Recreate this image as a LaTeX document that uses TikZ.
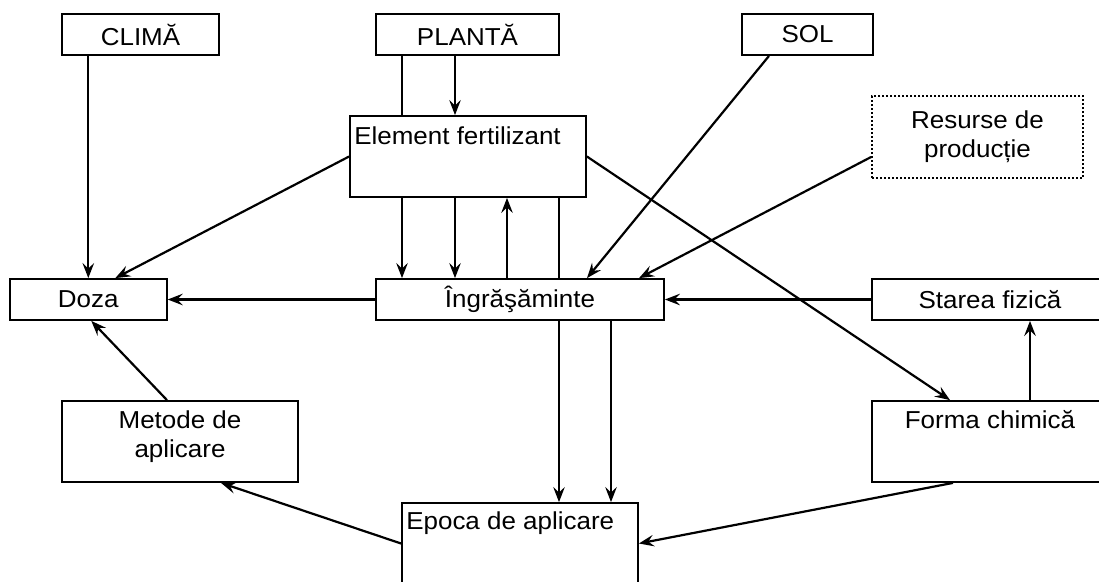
\documentclass[tikz,border=0pt]{standalone}
\usepackage{fontspec}
\setmainfont{Liberation Sans}[FakeStretch=1.06]
\usetikzlibrary{arrows.meta,calc}

\begin{document}
\begin{tikzpicture}
  [x=1pt,y=-1pt,
   every node/.style={inner sep=0pt,font=\fontsize{24.5}{29}\selectfont},
   box/.style={draw,line width=1.8pt,align=center},
   dotbox/.style={box,dash pattern=on 2pt off 2pt},
   arr/.style={line width=2.2pt,-{Stealth[length=15pt,width=11.5pt,inset=5.5pt]}},
   plain/.style={line width=1.8pt}]
  \useasboundingbox (0,0) rectangle (1099,581);
  \clip (0,0) rectangle (1099,581);

  \node[box,minimum width=157pt,minimum height=41pt] (clima) at (140.5,34.5) {CLIMĂ};
  \node[box,minimum width=183pt,minimum height=41pt] (planta) at (467.5,34.5) {PLANTĂ};
  \node[box,minimum width=131pt,minimum height=41pt] (sol) at (807.5,34.5) {SOL};
  \node[box,minimum width=236pt,minimum height=81pt] (element) at (468,156.5) {};
  \node[dotbox,minimum width=211pt,minimum height=82pt] (resurse) at (977.5,137) {Resurse de\\producție};
  \node[box,minimum width=157pt,minimum height=41pt] (doza) at (88.3,299.5) {Doza};
  \node[box,minimum width=288pt,minimum height=41pt] (ingr) at (520,299.5) {Îngrăşăminte};
  \node[box,minimum width=236pt,minimum height=41pt] (starea) at (990,299.5) {Starea fizică};
  \node[box,minimum width=236pt,minimum height=81pt] (metode) at (180,441.5) {};
  \node[box,minimum width=236pt,minimum height=81pt] (forma) at (990,441.5) {};
  \node[box,minimum width=236pt,minimum height=81pt] (epoca) at (520,543.5) {};

  % texts inside the tall boxes
  \node[anchor=base west] (eltxt) at ([shift={(5,29)}]element.north west) {Element fertilizant};
  \node[anchor=base,align=center] (metxt) at ([shift={(0,57)}]metode.north) {Metode de\\aplicare};
  \node[anchor=base] (fotxt) at ([shift={(0,28)}]forma.north) {Forma chimică};
  \node[anchor=base west] (eptxt) at ([shift={(5,27)}]epoca.north west) {Epoca de aplicare};

  \coordinate (v1) at (402,0);
  \coordinate (v2) at (455,0);
  \coordinate (v3) at (507,0);
  \coordinate (v4) at (559,0);
  \coordinate (v5) at (611,0);

  \draw[plain] (planta.south -| v1) -- (element.north -| v1);
  \draw[arr] (planta.south -| v2) -- (element.north -| v2);
  \foreach \v in {v1,v2}
    \draw[arr] (element.south -| \v) -- (ingr.north -| \v);
  \draw[arr] (ingr.north -| v3) -- (element.south -| v3);
  \draw[plain] (element.south -| v4) -- (ingr.north -| v4);
  \foreach \v in {v4,v5}
    \draw[arr] (ingr.south -| \v) -- (epoca.north -| \v);

  \draw[arr] (clima.south -| doza.north) -- (doza.north);
  \draw[arr] (element.west) -- ([xshift=27pt]doza.north);
  \draw[arr] (ingr.west) -- (doza.east);
  \draw[arr] ([xshift=-13pt]metode.north) -- ([xshift=3pt]doza.south);
  \draw[arr] (epoca.west) -- ([xshift=41pt]metode.south);
  \draw[arr] ([xshift=-37pt]forma.south) -- (epoca.east);
  \draw[arr] (starea.west) -- (ingr.east);
  \draw[arr] ([xshift=40pt]forma.north) -- ([xshift=40pt]starea.south);
  \draw[arr] (element.east) -- ([xshift=-40pt]forma.north);
  \draw[arr] ([xshift=-38.5pt]sol.south) -- ([xshift=67pt]ingr.north);
  \draw[arr] ([shift={(0,20)}]resurse.west) -- ([xshift=119pt]ingr.north);

\end{tikzpicture}
\end{document}
